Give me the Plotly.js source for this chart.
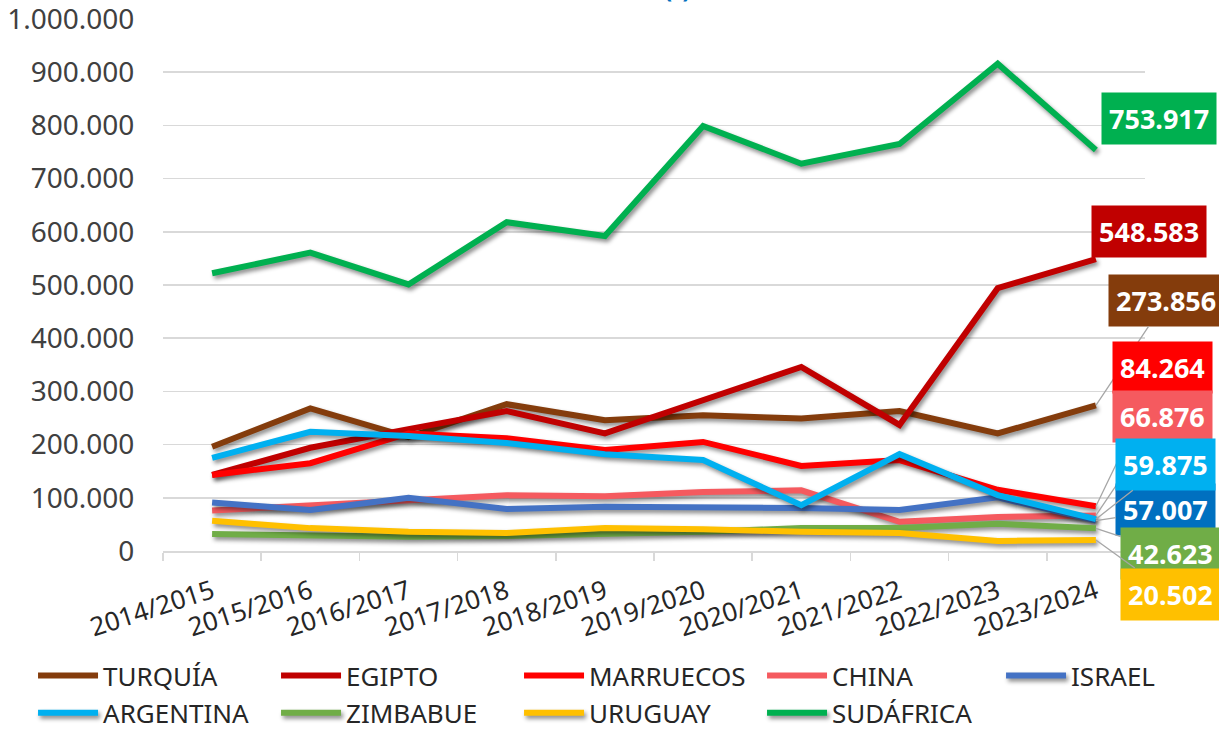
<!DOCTYPE html>
<html>
<head>
<meta charset="utf-8">
<script src="https://cdn.plot.ly/plotly-3.0.1.min.js"></script>
<style>
  html, body { margin: 0; padding: 0; background: #fff; }
  #chart { width: 1219px; height: 731px; }
  .js-line { filter: drop-shadow(2px 3px 2px rgba(0,0,0,0.45)); }
  .legend .js-line { filter: none; }
</style>
</head>
<body>
<div id="chart"></div>
<script>
const seasons = ['2014/2015','2015/2016','2016/2017','2017/2018','2018/2019','2019/2020','2020/2021','2021/2022','2022/2023','2023/2024'];

const countries = ['TURQUÍA','EGIPTO','MARRUECOS','CHINA','ISRAEL','ARGENTINA','ZIMBABUE','URUGUAY','SUDÁFRICA'];

const turquia   = [196000, 268000, 214000, 276000, 246000, 255000, 249000, 263000, 221000, 273856];
const egipto    = [143000, 194000, 229000, 263000, 221000, 284000, 346000, 237000, 494000, 548583];
const marruecos = [143000, 165000, 221000, 212000, 190000, 205000, 160000, 171000, 115000, 84264];
const china     = [76000, 86000, 94000, 105000, 103000, 111000, 114000, 55000, 64000, 66876];
const israel    = [91000, 77000, 100000, 79000, 83000, 83000, 81000, 77000, 101000, 57007];
const argentina = [175000, 224000, 216000, 203000, 182000, 171000, 86000, 182000, 105000, 59875];
const zimbabue  = [32000, 29000, 27000, 28000, 32000, 36000, 43000, 43000, 51000, 42623];
const uruguay   = [57000, 43000, 36000, 34000, 43000, 41000, 36000, 34000, 19000, 20502];
const sudafrica = [522000, 561000, 501000, 618000, 592000, 799000, 728000, 765000, 916000, 753917];

const lastLabels = ['273.856','548.583','84.264','66.876','57.007','59.875','42.623','20.502','753.917'];

const seriesValues = [turquia, egipto, marruecos, china, israel, argentina, zimbabue, uruguay, sudafrica];
const lineColors = ['#843C0C','#C00000','#FF0000','#F55A5F','#4472C4','#00B0F0','#70AD47','#FFC000','#00B050'];
const boxColors  = ['#843C0C','#C00000','#FF0000','#F55A5F','#0070C0','#00B0F0','#70AD47','#FFC000','#00B050'];
// which legend box (row/column layout) each series goes in
const legendIds = ['legend','legend','legend','legend','legend3','legend2','legend2','legend2','legend2'];
// label offsets (pixels) from the last point
const labelOffsets = [[70,-105],[53,-28],[67,-139],[67,-99],[70,-11],[70,-55],[75,25],[75,54],[63,-31]];
const hideLeader = [false,true,false,false,false,false,false,false,true];

const traces = countries.map((c, i) => ({
  type: 'scatter',
  mode: 'lines',
  name: c,
  x: seasons,
  y: seriesValues[i],
  line: { color: lineColors[i], width: 6 },
  legend: legendIds[i],
  hoverinfo: 'skip'
}));

const annotations = countries.map((c, i) => {
  const vals = seriesValues[i];
  return {
    x: seasons[seasons.length - 1],
    y: vals[vals.length - 1],
    xref: 'x', yref: 'y',
    text: '<b>' + lastLabels[i] + '</b>',
    showarrow: true,
    arrowhead: 0,
    arrowwidth: 1.3,
    arrowcolor: hideLeader[i] ? 'rgba(0,0,0,0)' : '#A6A6A6',
    ax: labelOffsets[i][0],
    ay: labelOffsets[i][1],
    bgcolor: boxColors[i],
    borderpad: 7,
    font: { family: 'Noto Sans, sans-serif', size: 27, color: '#FFFFFF' }
  };
});

annotations.push({
  xref: 'paper', yref: 'paper',
  x: 0.524, y: 1.022,
  xanchor: 'center', yanchor: 'bottom',
  text: '<b>(t)</b>',
  showarrow: false,
  font: { family: 'Noto Sans, sans-serif', size: 24, color: '#0070C0' }
});

const legendFont = { family: 'Noto Sans, sans-serif', size: 26, color: '#262626' };
const legendBase = {
  orientation: 'h',
  xref: 'container', yref: 'container',
  xanchor: 'left', yanchor: 'top',
  entrywidth: 168,
  entrywidthmode: 'pixels',
  itemwidth: 60,
  traceorder: 'normal',
  font: legendFont,
  bgcolor: 'rgba(0,0,0,0)'
};

const layout = {
  width: 1219,
  height: 731,
  paper_bgcolor: '#FFFFFF',
  plot_bgcolor: '#FFFFFF',
  margin: { l: 163, r: 74, t: 19, b: 180 },
  showlegend: true,
  font: { family: 'Noto Sans, sans-serif', color: '#404040' },
  xaxis: {
    type: 'category',
    range: [-0.5, 9.5],
    tickson: 'boundaries',
    ticks: 'outside',
    ticklen: 8,
    tickcolor: '#D9D9D9',
    tickwidth: 1.5,
    showline: true,
    linecolor: '#D9D9D9',
    linewidth: 1.5,
    showgrid: false,
    tickangle: -18,
    ticklabelstandoff: 14,
    tickfont: { family: 'Noto Sans, sans-serif', size: 26, color: '#262626' },
    fixedrange: true
  },
  yaxis: {
    range: [0, 1000000],
    dtick: 100000,
    tickformat: ',d',
    showgrid: true,
    gridcolor: '#D9D9D9',
    gridwidth: 1.5,
    zeroline: false,
    showline: false,
    ticks: 'outside',
    ticklen: 22,
    tickcolor: 'rgba(0,0,0,0)',
    ticklabeloverflow: 'allow',
    tickfont: { family: 'Noto Sans, sans-serif', size: 28, color: '#404040' },
    fixedrange: true
  },
  separators: ',.',
  legend: Object.assign({}, legendBase, { x: 0.0271, y: 0.108 }),
  legend2: Object.assign({}, legendBase, { x: 0.0271, y: 0.057 }),
  legend3: Object.assign({}, legendBase, { x: 0.8212, y: 0.108, entrywidth: 0 }),
  annotations: annotations
};

Plotly.newPlot('chart', traces, layout, { displayModeBar: false, staticPlot: true });
</script>
</body>
</html>
